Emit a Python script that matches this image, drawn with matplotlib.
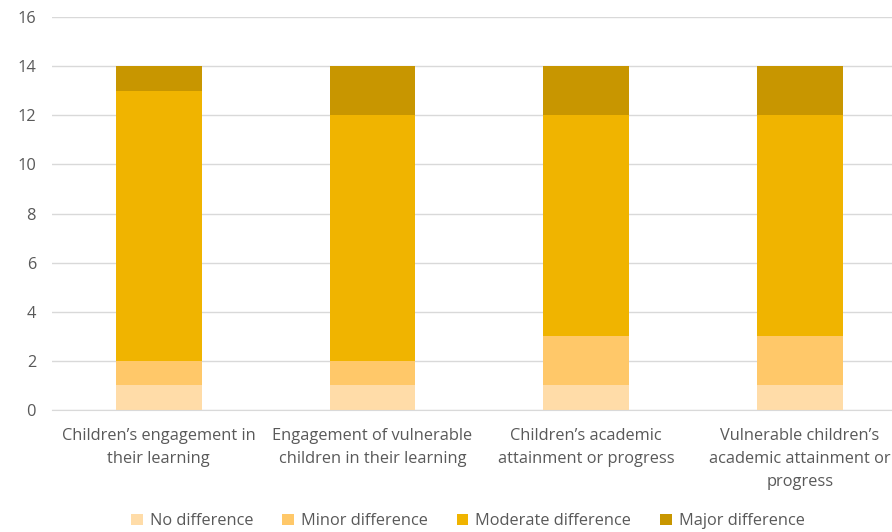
import matplotlib
matplotlib.use("Agg")
import matplotlib.pyplot as plt
import numpy as np

plt.rcParams['font.family'] = ['Open Sans', 'DejaVu Sans']

categories = ["Children\u2019s engagement in\ntheir learning",
              "Engagement of vulnerable\nchildren in their learning",
              "Children\u2019s academic\nattainment or progress",
              "Vulnerable children\u2019s\nacademic attainment or\nprogress"]
series_names = ["No difference", "Minor difference", "Moderate difference", "Major difference"]
no_diff = [1, 1, 1, 1]
minor_diff = [1, 1, 2, 2]
moderate_diff = [11, 10, 9, 9]
major_diff = [1, 2, 2, 2]
colors = ["#FFDCA8", "#FFC869", "#F0B400", "#C89600"]
yticks = [0, 2, 4, 6, 8, 10, 12, 14, 16]

fig = plt.figure(figsize=(8.92, 5.32), dpi=100)
ax = fig.add_axes([52/892, 1-410/532, 1-52/892, (410-17)/532])

x = np.arange(len(categories))
bottom = np.zeros(len(categories))
for name, vals, c in zip(series_names, [no_diff, minor_diff, moderate_diff, major_diff], colors):
    ax.bar(x, vals, bottom=bottom, width=0.4, color=c, label=name, zorder=3)
    bottom += np.array(vals)

ax.set_ylim(0, 16)
ax.set_xlim(-0.5, 3.5 - 14.7/213.3)
ax.set_yticks(yticks)
ax.set_xticks(x)
ax.set_xticklabels(categories, fontsize=11.8, color="#595959", linespacing=1.57)
ax.tick_params(axis='y', labelsize=11.8, labelcolor="#595959", length=0, pad=11.5)
ax.tick_params(axis='x', length=0, pad=13)
ax.yaxis.grid(True, color="#D9D9D9", linewidth=1, zorder=0)
for s in ["top", "right", "left"]:
    ax.spines[s].set_visible(False)
ax.spines["bottom"].set_color("#D9D9D9")
ax.spines["bottom"].set_zorder(4)

leg = fig.legend(loc='center', bbox_to_anchor=(468/892, 1-521/532), ncol=4, frameon=False,
                 fontsize=11.8, handlelength=0.7, handleheight=0.7, handletextpad=0.45,
                 columnspacing=1.75, labelcolor="#595959")

fig.savefig("out.png", dpi=100)
